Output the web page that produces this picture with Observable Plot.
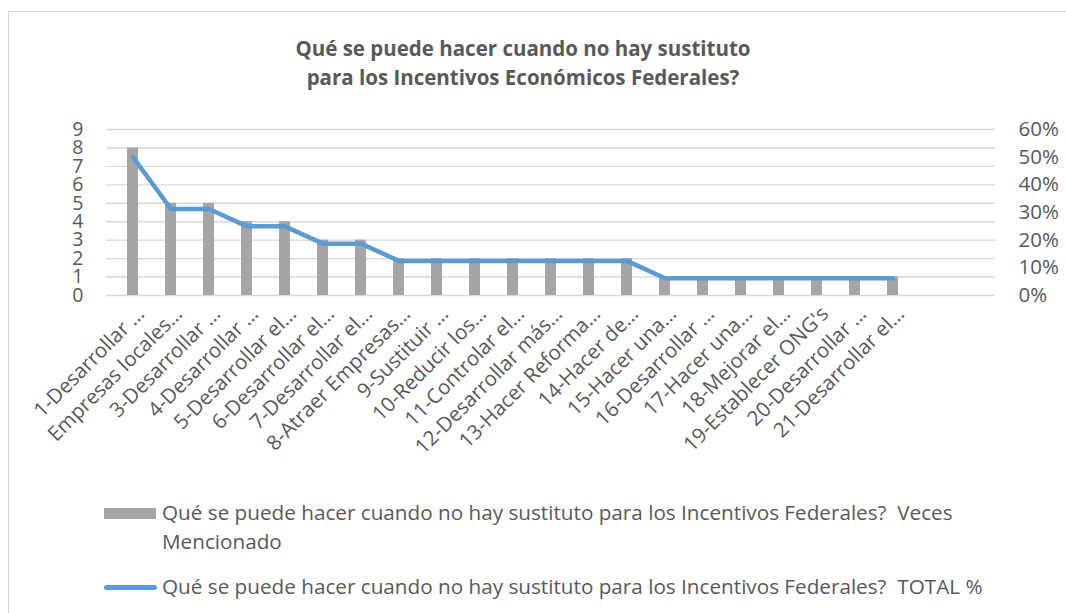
<!DOCTYPE html>
<html>
<head>
<meta charset="utf-8">
<script src="https://cdn.jsdelivr.net/npm/d3@7"></script>
<script src="https://cdn.jsdelivr.net/npm/@observablehq/plot@0.6"></script>
<style>
  html, body { margin: 0; padding: 0; background: #fff; }
  #wrap { position: relative; width: 1066px; height: 613px; overflow: hidden; font-family: "Open Sans", Lato, sans-serif; color: #595959; }
  #frame { position: absolute; left: 8px; top: 11px; width: 1080px; height: 640px; border: 1.3px solid #D9D9D9; box-sizing: border-box; }
  #chart { position: absolute; left: 0; top: 0; }
  #title { position: absolute; left: 173px; width: 700px; top: 34px; text-align: center; font-weight: bold; font-size: 20.5px; line-height: 29px; color: #595959; }
  .leg { position: absolute; left: 104px; font-size: 20.7px; line-height: 29px; color: #595959; }
  .leg .txt { position: absolute; left: 58px; top: 0; white-space: pre; }
  .sw-bar { position: absolute; left: 0; width: 52px; height: 11px; background: #A5A5A5; }
  .sw-line { position: absolute; left: 0; width: 53px; height: 4.5px; border-radius: 3px; background: #5B9BD5; }
</style>
</head>
<body>
<div id="wrap">
  <div id="frame"></div>
  <div id="chart"></div>
  <div id="title"></div>
  <div class="leg" id="leg1" style="top:498px;"><div class="sw-bar" style="top:10px;"></div><div class="txt" id="leg1t"></div></div>
  <div class="leg" id="leg2" style="top:572px;"><div class="sw-line" style="top:13px;"></div><div class="txt" id="leg2t"></div></div>
</div>
<script>
const titleLines = ["Qué se puede hacer cuando no hay sustituto", "para los Incentivos Económicos Federales?"];
const categories = [
  "1-Desarrollar …", "Empresas locales…", "3-Desarrollar …", "4-Desarrollar …",
  "5-Desarrollar el…", "6-Desarrollar el…", "7-Desarrollar el…", "8-Atraer Empresas…",
  "9-Sustituir …", "10-Reducir los…", "11-Controlar el…", "12-Desarrollar más…",
  "13-Hacer Reforma…", "14-Hacer de…", "15-Hacer una…", "16-Desarrollar …",
  "17-Hacer una…", "18-Mejorar el…", "19-Establecer ONG's", "20-Desarrollar …",
  "21-Desarrollar el…"
];
const emptySlots = 2;
const vecesMencionado = [8, 5, 5, 4, 4, 3, 3, 2, 2, 2, 2, 2, 2, 2, 1, 1, 1, 1, 1, 1, 1];
const totalPct = [0.5, 0.3125, 0.3125, 0.25, 0.25, 0.1875, 0.1875,
  0.125, 0.125, 0.125, 0.125, 0.125, 0.125, 0.125,
  0.0625, 0.0625, 0.0625, 0.0625, 0.0625, 0.0625, 0.0625];
const leftTicks = [0, 1, 2, 3, 4, 5, 6, 7, 8, 9];
const rightTicks = [0, 0.1, 0.2, 0.3, 0.4, 0.5, 0.6];
const seriesNames = [
  ["Qué se puede hacer cuando no hay sustituto para los Incentivos Federales?  Veces", "Mencionado"],
  ["Qué se puede hacer cuando no hay sustituto para los Incentivos Federales?  TOTAL %"]
];

const leftMax = leftTicks[leftTicks.length - 1];
const rightMax = rightTicks[rightTicks.length - 1];
const ratio = leftMax / rightMax;
const slots = d3.range(categories.length + emptySlots);

const barData = vecesMencionado.map((v, i) => ({i, v}));
const lineData = totalPct.map((p, i) => ({i, p}));

const chart = Plot.plot({
  width: 1066,
  height: 613,
  marginLeft: 106,
  marginRight: 71,
  marginTop: 129,
  marginBottom: 318,
  style: {fontFamily: "'Open Sans', Lato, sans-serif", fontSize: "18px", color: "#595959", background: "transparent"},
  x: {type: "band", domain: slots, paddingInner: 0.71, paddingOuter: 0.355},
  y: {domain: [0, leftMax]},
  marks: [
    Plot.gridY(leftTicks, {stroke: "#D9D9D9", strokeOpacity: 1, strokeWidth: 1.4}),
    Plot.barY(barData, {x: "i", y: "v", fill: "#A5A5A5"}),
    Plot.lineY(lineData, {x: "i", y: d => d.p * ratio, stroke: "#5B9BD5", strokeWidth: 4.5, strokeLinejoin: "round", strokeLinecap: "round"}),
    Plot.axisY(leftTicks, {anchor: "left", tickSize: 0, tickPadding: 23, fontSize: 19.5, label: null}),
    Plot.axisY(rightTicks.map(t => t * ratio), {anchor: "right", tickSize: 0, tickPadding: 23, fontSize: 20.5, label: null,
      tickFormat: d => Math.round(d / ratio * 100) + "%", textAnchor: "start"}),
    Plot.axisX(slots, {anchor: "bottom", tickSize: 0, tickPadding: 15, dx: 8, tickRotate: -45, fontSize: 20.5, label: null,
      tickFormat: i => categories[i] ?? ""})
  ]
});
document.getElementById("chart").appendChild(chart);
document.getElementById("title").innerHTML = titleLines.join("<br>");
document.getElementById("leg1t").innerHTML = seriesNames[0].join("<br>");
document.getElementById("leg2t").innerHTML = seriesNames[1].join("<br>");
</script>
</body>
</html>
